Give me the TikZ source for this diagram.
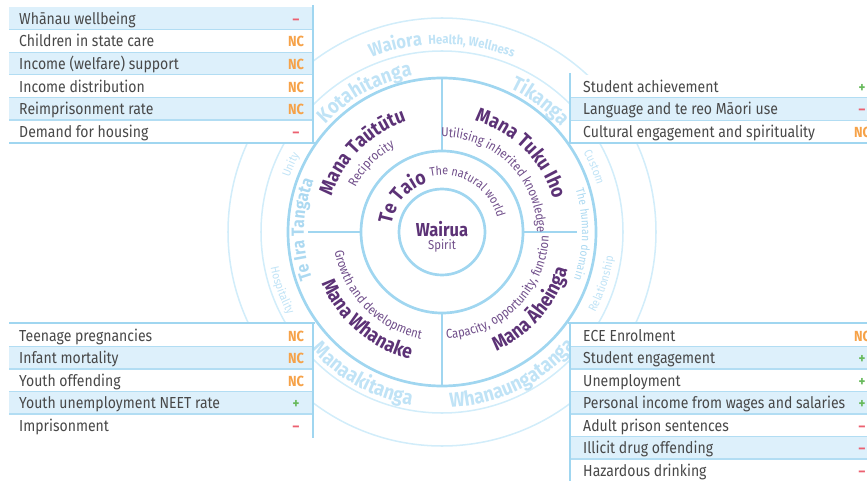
\documentclass[tikz,border=0pt]{standalone}
\usepackage{fontspec}
\setmainfont{Fira Sans}[FakeStretch=0.88]
\usetikzlibrary{decorations.text}

\definecolor{rowblue}{RGB}{221,240,251}
\definecolor{rowline}{RGB}{178,221,243}
\definecolor{wheelblue}{RGB}{160,214,240}
\definecolor{faintblue}{RGB}{210,237,250}
\definecolor{ringtext}{RGB}{192,227,246}
\definecolor{tangata}{RGB}{172,217,241}
\definecolor{manapurple}{RGB}{92,50,118}
\definecolor{subpurple}{RGB}{112,78,138}
\definecolor{itemgrey}{RGB}{72,72,72}
\definecolor{ncorange}{RGB}{246,162,72}
\definecolor{msred}{RGB}{236,96,112}
\definecolor{plgreen}{RGB}{104,186,92}

% trend marks
\newcommand\stNC{\textcolor{ncorange}{NC}}
\newcommand\stMinus{\textcolor{msred}{–}}
\newcommand\stPlus{\textcolor{plgreen}{+}}

% fonts for the wheel
\newcommand\manafont{\fontsize{17}{17}\selectfont\bfseries\color{manapurple}}
\newcommand\manasub{\fontsize{11}{11}\selectfont\color{subpurple}}
\newcommand\ringfont{\fontsize{17.5}{17.5}\selectfont\bfseries\color{ringtext}}
\newcommand\tangfont{\fontsize{15}{15}\selectfont\bfseries\color{tangata}}
\newcommand\tangsub{\fontsize{10}{10}\selectfont\color{tangata}}
\newcommand\smallring{\fontsize{10}{10}\selectfont\color{ringtext}}

% text on an arc: angle, radius, format, text
\newcommand\cwtext[4]{\path[decorate,decoration={text along path,text align=center,text={|#3|#4}}]
  (#1+60:#2) arc[start angle=#1+60,end angle=#1-60,radius=#2];}
\newcommand\ccwtext[4]{\path[decorate,decoration={text along path,text align=center,text={|#3|#4}}]
  (#1-60:#2) arc[start angle=#1-60,end angle=#1+60,radius=#2];}

\begin{document}
\begin{tikzpicture}[x=0.03cm,y=0.03cm,
  wheel/.style={draw=wheelblue,line width=2.3pt},
  faint/.style={draw=faintblue,line width=1.3pt},
  rowsep/.style={draw=rowline,line width=0.9pt},
  border/.style={draw=wheelblue,line width=2.4pt},
  item/.style={anchor=base west,yshift=-5.1pt,inner sep=0pt,text=itemgrey,font=\fontsize{13.6}{15}\selectfont},
  stat/.style={anchor=base,yshift=-5.1pt,inner sep=0pt,font=\fontsize{12.5}{14}\selectfont\bfseries}]
\useasboundingbox (0,0) rectangle (867,-481);

\begin{scope}[shift={(442,-232)}]
% rings
\draw[faint] (0,0) circle[radius=181] (0,0) circle[radius=214];
\draw[wheel] (0,0) circle[radius=43] (0,0) circle[radius=81] (0,0) circle[radius=154];
\draw[wheel] (0,81) -- (0,154) (0,-81) -- (0,-154) (-81,0) -- (-134,0) (81,0) -- (135,0);
% centre
\node[inner sep=0pt,text=manapurple,font=\fontsize{16}{16}\selectfont\bfseries] (wairua) at (0,3) {Wairua};
\node[inner sep=0pt,text=subpurple,font=\fontsize{11}{11}\selectfont] (spirit) at (0,-14) {Spirit};
\cwtext{139}{51}{\fontsize{17}{17}\selectfont\bfseries\color{manapurple}}{Te Taio}
\cwtext{58}{57}{\fontsize{10.5}{10.5}\selectfont\color{subpurple}}{The natural world}
% the four mana
\cwtext{135}{116}{\manafont}{Mana Taūtūtu}
\cwtext{136}{97}{\manasub}{Reciprocity}
\cwtext{45}{116}{\manafont}{Mana Tuku Iho}
\cwtext{45}{95}{\manasub}{Utilising inherited knowledge}
\ccwtext{-41}{131}{\manafont}{Mana Āheinga}
\ccwtext{-45}{107}{\manasub}{Capacity, opportunity, function}
\ccwtext{229.5}{131}{\manafont}{Mana Whanake}
\ccwtext{224.5}{109}{\manasub}{Growth and development}
\cwtext{179}{138}{\tangfont}{Te Ira Tangata}
\cwtext{-1}{140}{\tangsub}{The human domain}
% outer bands
\cwtext{119}{159}{\ringfont}{Kotahitanga}
\cwtext{53}{159}{\ringfont}{Tikanga}
\ccwtext{241}{176}{\ringfont}{Manaakitanga}
\ccwtext{296}{176}{\ringfont}{Whanaungatanga}
\cwtext{156}{162}{\smallring}{Unity}
\cwtext{23}{162}{\smallring}{Custom}
\ccwtext{200}{175}{\smallring}{Hospitality}
\ccwtext{-18}{173}{\smallring}{Relationship}
\cwtext{104}{188}{\fontsize{16}{16}\selectfont\bfseries\color{ringtext}}{Waiora}
\cwtext{81}{188}{\fontsize{11}{11}\selectfont\bfseries\color{ringtext}}{Health, Wellness}
\end{scope}

% top left table
\foreach \f/\t/\s [count=\i] in {rowblue/Whānau wellbeing/\stMinus, white/Children in state care/\stNC,
  rowblue/Income (welfare) support/\stNC, white/Income distribution/\stNC,
  rowblue/Reimprisonment rate/\stNC, white/Demand for housing/\stMinus}{
  \fill[\f] (9,{-7-(\i-1)*22.6}) rectangle (313,{-7-\i*22.6});
  \node[item] (tl\i) at (19,{-7-(\i-0.5)*22.6}) {\t};
  \node[stat] (tls\i) at (296,{-7-(\i-0.5)*22.6}) {\s};
}
\foreach \i in {1,...,5} \draw[rowsep] (9,{-7-\i*22.6}) -- (313,{-7-\i*22.6});
\draw[border] (9,-143) -- (315,-143) (313,-5) -- (313,-144);

% top right table
\foreach \f/\t/\s [count=\i] in {white/Student achievement/\stPlus,
  rowblue/Language and te reo Māori use/\stMinus, white/Cultural engagement and spirituality/\stNC}{
  \fill[\f] (570,{-75-(\i-1)*22.6}) rectangle (867,{-75-\i*22.6});
  \node[item] (tr\i) at (583,{-75-(\i-0.5)*22.6}) {\t};
  \node[stat] (trs\i) at (862,{-75-(\i-0.5)*22.6}) {\s};
}
\foreach \i in {1,2} \draw[rowsep] (570,{-75-\i*22.6}) -- (867,{-75-\i*22.6});
\draw[border] (568,-143) -- (867,-143) (570,-73) -- (570,-144);

% bottom left table
\foreach \f/\t/\s [count=\i] in {white/Teenage pregnancies/\stNC, rowblue/Infant mortality/\stNC,
  white/Youth offending/\stNC, rowblue/Youth unemployment NEET rate/\stPlus, white/Imprisonment/\stMinus}{
  \fill[\f] (9,{-324-(\i-1)*22.5}) rectangle (313,{-324-\i*22.5});
  \node[item] (bl\i) at (19,{-324-(\i-0.5)*22.5}) {\t};
  \node[stat] (bls\i) at (296,{-324-(\i-0.5)*22.5}) {\s};
}
\foreach \i in {1,...,4} \draw[rowsep] (9,{-324-\i*22.5}) -- (313,{-324-\i*22.5});
\draw[border] (9,-323) -- (315,-323) (313,-322) -- (313,-438);

% bottom right table
\foreach \f/\t/\s [count=\i] in {white/ECE Enrolment/\stNC, rowblue/Student engagement/\stPlus,
  white/Unemployment/\stPlus, rowblue/Personal income from wages and salaries/\stPlus,
  white/Adult prison sentences/\stMinus, rowblue/Illicit drug offending/\stMinus,
  white/Hazardous drinking/\stMinus}{
  \fill[\f] (570,{-324-(\i-1)*22.5}) rectangle (867,{-324-\i*22.5});
  \node[item] (br\i) at (583,{-324-(\i-0.5)*22.5}) {\t};
  \node[stat] (brs\i) at (862,{-324-(\i-0.5)*22.5}) {\s};
}
\foreach \i in {1,...,6} \draw[rowsep] (570,{-324-\i*22.5}) -- (867,{-324-\i*22.5});
\draw[border] (568,-323) -- (867,-323) (570,-322) -- (570,-481);
\end{tikzpicture}
\end{document}
